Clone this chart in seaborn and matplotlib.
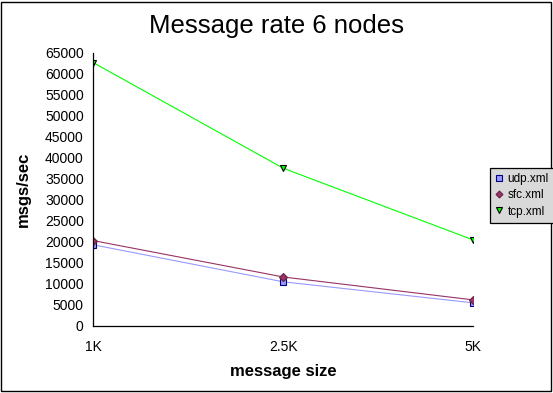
import pandas as pd
import seaborn as sns
import matplotlib.pyplot as plt
from matplotlib.patches import Rectangle
from matplotlib.lines import Line2D

# Data
sizes = ['1K', '2.5K', '5K']
udp = [19300, 10500, 5500]
sfc = [20300, 11650, 6200]
tcp = [62600, 37500, 20450]
series = ['udp.xml', 'sfc.xml', 'tcp.xml']

df = pd.DataFrame({
    'size': sizes * 3,
    'rate': udp + sfc + tcp,
    'config': [s for s in series for _ in sizes],
})

sns.set_style('white')
plt.rcParams['font.family'] = ['Liberation Sans', 'DejaVu Sans']
plt.rcParams['text.color'] = 'black'
plt.rcParams['axes.labelcolor'] = 'black'

palette = {'udp.xml': '#9999ff', 'sfc.xml': '#993366', 'tcp.xml': '#00ff00'}
markers = {'udp.xml': 's', 'sfc.xml': 'D', 'tcp.xml': 'v'}
edges = {'udp.xml': '#000080', 'sfc.xml': '#662244', 'tcp.xml': '#000000'}
msizes = {'udp.xml': 5, 'sfc.xml': 4, 'tcp.xml': 5}

fig = plt.figure(figsize=(5.53, 3.93), dpi=100)
ax = fig.add_axes([0.169, 0.1705, 0.687, 0.6955])

sns.lineplot(data=df, x='size', y='rate', hue='config', style='config',
             palette=palette, markers=markers, dashes=False,
             linewidth=0.8, legend=False, ax=ax)

for line, name in zip(ax.lines, series):
    line.set_markeredgecolor(edges[name])
    line.set_markerfacecolor(palette[name])
    line.set_markersize(msizes[name])
    line.set_markeredgewidth(0.8)

ax.set_xlim(0, 2)
ax.set_ylim(0, 65000)
ax.set_yticks(range(0, 65001, 5000))
ax.set_yticklabels([str(v) for v in range(0, 65001, 5000)])
ax.set_xticks(range(len(sizes)))
ax.set_xticklabels(sizes)
for s in ['top', 'right']:
    ax.spines[s].set_visible(False)
for s in ['left', 'bottom']:
    ax.spines[s].set_color('black')
    ax.spines[s].set_linewidth(0.9)
ax.tick_params(axis='both', direction='out', length=4, width=0.9,
               color='black', labelsize=10, labelcolor='black', pad=3)
ax.tick_params(axis='x', pad=5, length=5)
ax.set_xlabel('message size', fontsize=12, fontweight='bold', labelpad=7)
ax.set_ylabel('msgs/sec', fontsize=12, fontweight='bold', labelpad=10)

fig.suptitle('Message rate 6 nodes', fontsize=18.5, x=0.5, y=0.965)

handles = [Line2D([], [], linestyle='none', marker=markers[n], markersize=msizes[n] - 0.5,
                  markerfacecolor=palette[n], markeredgecolor=edges[n], markeredgewidth=0.8)
           for n in series]
leg = fig.legend(handles, series, loc='upper left', bbox_to_anchor=(490 / 553, 1 - 168 / 393),
                 fontsize=8.5, frameon=True, fancybox=False, facecolor='#d9d9d9',
                 edgecolor='black', framealpha=1, handlelength=0.6, handletextpad=0.45,
                 borderpad=0.45, labelspacing=0.35, borderaxespad=0)
leg._legend_box.sep = 2
leg.get_frame().set_linewidth(0.9)

fig.patches.append(Rectangle((0.002, 0.006), 0.994, 0.99, transform=fig.transFigure,
                             fill=False, edgecolor='black', linewidth=1))

fig.savefig('out.png', dpi=100)
